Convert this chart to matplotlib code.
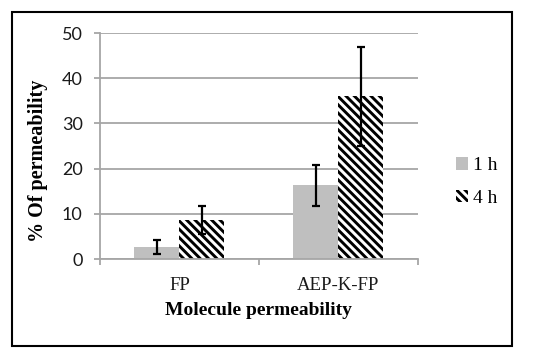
import matplotlib
matplotlib.use('Agg')
import matplotlib.pyplot as plt
import numpy as np
from matplotlib.patches import Rectangle

# data
categories = ['FP', 'AEP-K-FP']
series = ['1 h', '4 h']
mean_1h = [2.7, 16.3]
err_1h = [1.6, 4.5]
mean_4h = [8.6, 36.0]
err_4h = [3.1, 11.0]

plt.rcParams['hatch.linewidth'] = 2.1
plt.rcParams['hatch.color'] = 'black'

fig = plt.figure(figsize=(5.5, 3.58), dpi=100)
ax = fig.add_axes([0.1818, 0.2765, 0.5782, 0.6313])

x = np.arange(len(categories))
width = 0.283
grid_c = '#a6a6a6'

ax.bar(x - width / 2, mean_1h, width, color='#bfbfbf', label=series[0], zorder=2)
ax.bar(x + width / 2, mean_4h, width, color='white', edgecolor='black', hatch='\\\\\\\\',
       lw=0, label=series[1], zorder=2)
ax.errorbar(x - width / 2, mean_1h, yerr=err_1h, fmt='none', ecolor='black',
            elinewidth=1.6, capsize=3, capthick=1.6, zorder=3)
ax.errorbar(x + width / 2, mean_4h, yerr=err_4h, fmt='none', ecolor='black',
            elinewidth=1.6, capsize=3, capthick=1.6, zorder=3)

ax.set_xlim(-0.5, 1.5)
ax.set_ylim(0, 50)
ax.set_yticks(np.arange(0, 51, 10))
ax.yaxis.grid(True, color=grid_c, lw=1.3, zorder=0)
ax.set_axisbelow(True)

for s in ['top', 'right']:
    ax.spines[s].set_visible(False)
for s in ['left', 'bottom']:
    ax.spines[s].set_color(grid_c)
    ax.spines[s].set_linewidth(1.3)

ax.tick_params(axis='y', colors=grid_c, length=4.5, width=1.3, pad=8,
               labelcolor='#1a1a1a', labelsize=13)
for t in ax.get_yticklabels():
    t.set_family('Lato')

ax.set_xticks(x, labels=categories)
ax.set_xticks([-0.5, 0.5, 1.5], minor=True)
ax.tick_params(axis='x', which='major', length=0, pad=13, labelsize=13.5,
               labelcolor='#1a1a1a')
ax.tick_params(axis='x', which='minor', length=4, width=1.3, color=grid_c)
for t in ax.get_xticklabels():
    t.set_family('Liberation Serif')

ax.set_ylabel('% Of permeability', family='Liberation Serif', fontweight='bold',
              fontsize=14.5)
ax.yaxis.set_label_coords(-0.164, 0.434)
ax.set_xlabel('Molecule permeability', family='Liberation Serif', fontweight='bold',
              fontsize=14)
ax.xaxis.set_label_coords(0.497, -0.19)

fig.legend(loc='center left', bbox_to_anchor=(0.829, 0.491), frameon=False,
           prop={'family': 'Liberation Serif', 'size': 14},
           borderaxespad=0, borderpad=0,
           handlelength=0.6, handleheight=0.6, handletextpad=0.3, labelspacing=0.8)

fig.patches.append(Rectangle((0.0218, 0.0335), 0.9092, 0.933, transform=fig.transFigure,
                             fill=False, edgecolor='black', lw=1.5))

plt.savefig('out.png', dpi=100)
